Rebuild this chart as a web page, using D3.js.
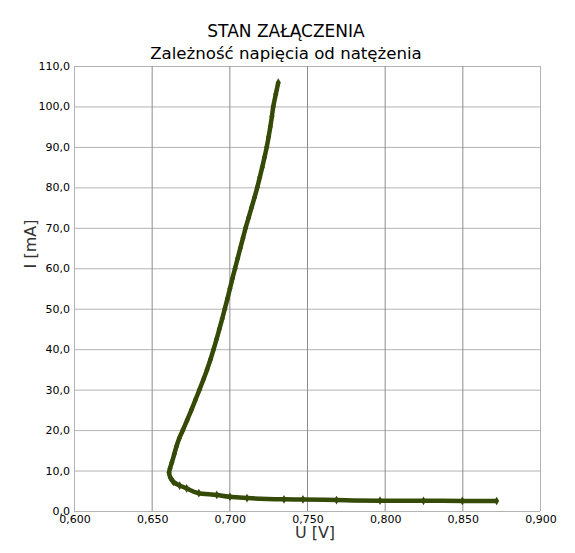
<!DOCTYPE html>
<html><head><meta charset="utf-8">
<script src="https://cdn.jsdelivr.net/npm/d3@7/dist/d3.min.js"></script>
<style>body{margin:0;background:#fff}svg{display:block}text{font-family:"DejaVu Sans",sans-serif}</style>
</head><body>
<script>
const titleLines = ["STAN ZAŁĄCZENIA", "Zależność napięcia od natężenia"];
const xLabel = "U [V]";
const yLabel = "I [mA]";
const xTicks = [0.600, 0.650, 0.700, 0.750, 0.800, 0.850, 0.900];
const yTicks = [0, 10, 20, 30, 40, 50, 60, 70, 80, 90, 100, 110];
// Measured points, voltage U [V]
const voltage = [0.8721, 0.850, 0.825, 0.797, 0.769, 0.7474, 0.7352, 0.7114, 0.7004, 0.6919, 0.6804, 0.6725, 0.668, 0.6639, 0.6620, 0.6612,
  0.6618, 0.6630, 0.6645, 0.6660, 0.6678, 0.6701, 0.6729, 0.6756, 0.6782, 0.6808, 0.6833, 0.6857, 0.6879, 0.6899, 0.6918, 0.6936, 0.6954,
  0.6971, 0.6988, 0.7004, 0.7020, 0.7037, 0.7054, 0.7071, 0.7088, 0.7105, 0.7124, 0.7143, 0.7162, 0.7180, 0.7196, 0.7212, 0.7227, 0.7241,
  0.7253, 0.7264, 0.7274, 0.7283, 0.7299, 0.7315];
// Measured points, current I [mA]
const current = [2.47, 2.5, 2.52, 2.55, 2.7, 2.85, 2.9, 3.2, 3.5, 3.96, 4.4, 5.6, 6.3, 7.2, 8.3, 9.5,
  10.5, 12, 14, 16, 18, 20, 22.5, 25, 27.5, 30, 32.5, 35, 37.5, 40, 42.5, 45, 47.5,
  50, 52.5, 55, 57.5, 60, 62.5, 65, 67.5, 70, 72.5, 75, 77.5, 80, 82.5, 85, 87.5, 90,
  92.5, 95, 97.5, 100, 103, 105.9];

const W = 575, H = 553;
const m = {left: 74, right: 35, top: 66, bottom: 42};
const svg = d3.select("body").append("svg").attr("width", W).attr("height", H);
const x = d3.scaleLinear().domain([0.6, 0.9]).range([m.left, W - m.right]);
const y = d3.scaleLinear().domain([0, 110]).range([H - m.bottom, m.top]);
const fmtX = v => d3.format(".3f")(v).replace(".", ",");
const fmtY = v => d3.format(".1f")(v).replace(".", ",");

// grid
svg.append("g").selectAll("line").data(yTicks).join("line")
  .attr("x1", m.left).attr("x2", W - m.right)
  .attr("y1", d => y(d) + 0.5).attr("y2", d => y(d) + 0.5)
  .attr("stroke", "#b3b3b3").attr("stroke-width", 1);
svg.append("g").selectAll("line").data(xTicks).join("line")
  .attr("x1", d => x(d) + 0.5).attr("x2", d => x(d) + 0.5)
  .attr("y1", m.top).attr("y2", H - m.bottom)
  .attr("stroke", d => (d === 0.6 || d === 0.9) ? "#b3b3b3" : "#8c8c8c").attr("stroke-width", 1);

// axes (text only)
const xAxis = d3.axisBottom(x).tickValues(xTicks).tickFormat(fmtX).tickSize(0).tickPadding(4);
const gx = svg.append("g").attr("transform", `translate(0.5,${H - m.bottom})`).call(xAxis);
const yAxis = d3.axisLeft(y).tickValues(yTicks).tickFormat(fmtY).tickSize(0).tickPadding(4);
const gy = svg.append("g").attr("transform", `translate(${m.left},0)`).call(yAxis);
[gx, gy].forEach(g => {
  g.select(".domain").remove();
  g.selectAll("text").attr("font-size", 11).attr("fill", "#000").style("font-family", "DejaVu Sans");
});

// titles
svg.append("text").attr("x", 286).attr("y", 37).attr("text-anchor", "middle")
  .attr("font-size", 17).attr("fill", "#000").text(titleLines[0]);
svg.append("text").attr("x", 286).attr("y", 59).attr("text-anchor", "middle")
  .attr("font-size", 16.6).attr("fill", "#000").text(titleLines[1]);
svg.append("text").attr("x", 315).attr("y", 538).attr("text-anchor", "middle")
  .attr("font-size", 16).attr("fill", "#333").text(xLabel);
svg.append("text").attr("transform", "translate(36,244) rotate(-90)").attr("text-anchor", "middle")
  .attr("font-size", 16).attr("fill", "#333").text(yLabel);

// series
const pts = voltage.map((u, i) => [u, current[i]]);
const color = "#354a07";
svg.append("path").datum(pts)
  .attr("d", d3.line().curve(d3.curveMonotoneY).x(d => x(d[0])).y(d => y(d[1])))
  .attr("fill", "none").attr("stroke", color).attr("stroke-width", 4.5)
  .attr("stroke-linejoin", "round");
svg.append("g").selectAll("path").data(pts).join("path")
  .attr("transform", d => `translate(${x(d[0])},${y(d[1])})`)
  .attr("d", d3.symbol(d3.symbolDiamond, 22))
  .attr("fill", color);
</script>
</body></html>
